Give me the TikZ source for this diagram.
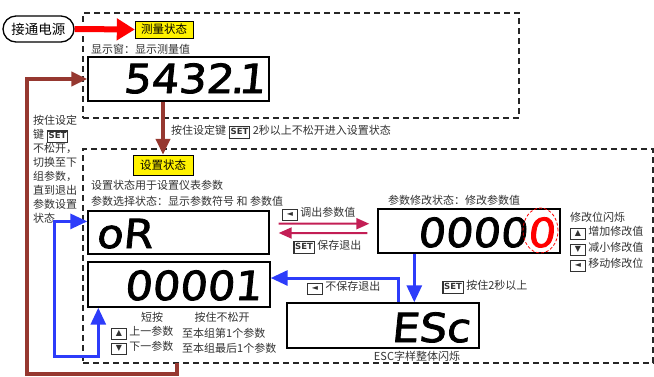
\documentclass[tikz,border=0pt]{standalone}
\usepackage{fontspec}
\usepackage{tikz}
\usetikzlibrary{positioning,arrows.meta,calc}
\setmainfont{Noto Sans CJK SC}
\newfontfamily\iconfont{DejaVu Sans}
\newfontfamily\segfont{DejaVu Sans}[FakeSlant=0.1, FakeStretch=1.08, FakeBold=2]
\definecolor{setbrown}{RGB}{150,56,48}
\definecolor{loopblue}{RGB}{45,60,250}
\definecolor{savered}{RGB}{195,30,85}
\definecolor{labelgray}{RGB}{50,50,50}
\newcommand{\lblfont}{\fontsize{11}{14}\selectfont}
\newcommand{\segsize}{\segfont\fontsize{40}{40}\selectfont}
\newcommand{\keyicon}[1]{{\setlength\fboxrule{1.2pt}\setlength\fboxsep{0.6pt}\fbox{\makebox[12pt]{\iconfont\fontsize{8}{8.5}\selectfont\strut #1}}}}
\newcommand{\setkey}{{\setlength\fboxrule{1.3pt}\setlength\fboxsep{0.7pt}\fbox{\iconfont\bfseries\fontsize{8.5}{8.5}\selectfont\strut SET}}}

\begin{document}
\begin{tikzpicture}[x=1pt, y=-1pt,
    zone/.style={draw=black!85, line width=1.1pt, dash pattern=on 6pt off 4pt},
    display/.style={draw, line width=1.4pt, inner sep=0pt},
    segtext/.style={inner sep=0pt, font=\segsize},
    statetag/.style={draw, fill=yellow, inner sep=0pt, font=\fontsize{11.5}{12}\selectfont},
    note/.style={inner sep=0pt, anchor=west, font=\lblfont, text=labelgray},
    brownarrow/.style={-{Triangle[length=16pt,width=14pt]}, line width=4pt, setbrown},
    bluearrow/.style={-{Triangle[length=17pt,width=15pt]}, line width=3pt, loopblue},
    redarrow/.style={-{Triangle[length=13pt,width=11pt]}, line width=2pt, savered}
]
\useasboundingbox (0,0) rectangle (654,376);

% Dashed zones
\node[zone, minimum width=436pt, minimum height=105pt] (measzone) at (301,65.5) {};
\node[zone, minimum width=570pt, minimum height=214pt] (setzone) at (368,256) {};

% Power on -> measuring state
\node[draw, line width=1.3pt, rounded corners=13pt, minimum width=71pt, minimum height=26pt, inner sep=0pt, font=\fontsize{13.5}{14}\selectfont] (power) at (38.5,29) {接通电源};
\node[statetag, minimum width=58pt, minimum height=17pt] (measstate) at (164,29.5) {测量状态};
\draw[-{Triangle[length=18pt,width=21pt]}, line width=6pt, red] (power.east) -- (measstate.west);

\node[note] (meascap) at (91,49) {显示窗：显示测量值};
\node[display, minimum width=181pt, minimum height=44pt] (meas) at (178.5,79) {};
\node[segtext, anchor=base west] (measval) at (123,93) {5432\kern-3pt.\kern-6pt1};

% Measuring state -> setting state
\node[statetag, minimum width=60pt, minimum height=20pt] (setstate) at (163,165) {设置状态};
\draw[brownarrow] (setstate.north |- meas.south) -- (setstate.north);
\node[note] (holdtip) at (171,132) {按住设定键 \setkey\ 2秒以上不松开进入设置状态};

% Back to measuring
\node[note, anchor=north west, align=left] (looptip) at (33,115) {按住设定\\键 \setkey\\不松开，\\切换至下\\组参数，\\直到退出\\参数设置\\状态};
\coordinate (loopstart) at (177,363);
\draw[brownarrow] (loopstart) |- (27,374) |- (meas.west);

\node[note] (setcap1) at (91,185) {设置状态用于设置仪表参数};
\node[note] (setcap2) at (91,201) {参数选择状态：显示参数符号 和 参数值};

% Parameter select
\node[display, minimum width=181pt, minimum height=43pt] (sel) at (178.5,232.5) {};
\node[segtext, anchor=base west] (selval) at (96,248) {oR};
\node[display, minimum width=182pt, minimum height=45pt] (val) at (179,284.5) {};
\node[segtext, anchor=base west] (valval) at (124,300) {00001};

\node[note, anchor=center] (shortpress) at (152,317) {短按};
\node[note, anchor=center] (longpress) at (222,317) {按住不松开};
\node[note] (upkey) at (111,333) {\keyicon{▲} 上一参数};
\node[note] (upfirst) at (182,333) {至本组第1个参数};
\node[note] (downkey) at (111,348) {\keyicon{▼} 下一参数};
\node[note] (downlast) at (182,348) {至本组最后1个参数};

\draw[bluearrow, {Triangle[length=17pt,width=15pt]}-{Triangle[length=17pt,width=15pt]}] ($(sel.north west)!0.25!(sel.south west)$) -| (54,356) -| ($(val.south west)+(11,0)$);

% Parameter modify
\node[note] (modcap) at (388,200) {参数修改状态：修改参数值};
\node[display, minimum width=182pt, minimum height=44pt] (mod) at (469,231) {};
\node[segtext, anchor=base east] (modval) at (555,247) {0000\textcolor{red}{0}};
\draw[red, line width=0.8pt, dash pattern=on 3pt off 2pt] (540.5,230.5) ellipse [x radius=17.5pt, y radius=22.5pt];

\node[note] (blinkcap) at (570,217) {修改位闪烁};
\node[note] (inckey) at (570,233) {\keyicon{▲} 增加修改值};
\node[note] (deckey) at (570,249) {\keyicon{▼} 减小修改值};
\node[note] (movekey) at (570,265) {\keyicon{◄} 移动修改位};

\draw[redarrow, shorten <=9pt, shorten >=8pt] ($(sel.north east)!0.3!(sel.south east)$) -- ($(mod.north west)!0.34!(mod.south west)$);
\draw[redarrow, shorten <=10pt, shorten >=9pt] ($(mod.north west)!0.55!(mod.south west)$) -- ($(sel.north east)!0.51!(sel.south east)$);
\node[note] (calltip) at (282,214) {\keyicon{◄} 调出参数值};
\node[note] (savetip) at (293,247) {\setkey\ 保存退出};

% ESC
\node[display, minimum width=192pt, minimum height=45pt] (esc) at (383,325.5) {};
\node[segtext, anchor=base west] (escval) at (391,342) {ESc};
\node[note, anchor=center] (esccap) at (417,356) {ESC字样整体闪烁};

\coordinate (modout) at ($(mod.south west)+(37,0)$);
\draw[bluearrow] (modout) -- (modout |- esc.north);
\coordinate (escout) at ($(esc.north west)!0.578!(esc.north east)$);
\coordinate (valin) at ($(val.north east)!0.36!(val.south east)$);
\draw[bluearrow] (escout) |- (valin);

\node[note] (nosavetip) at (307,288) {\keyicon{◄} 不保存退出};
\node[note] (holdesc) at (442,287) {\setkey\ 按住2秒以上};

\end{tikzpicture}
\end{document}
